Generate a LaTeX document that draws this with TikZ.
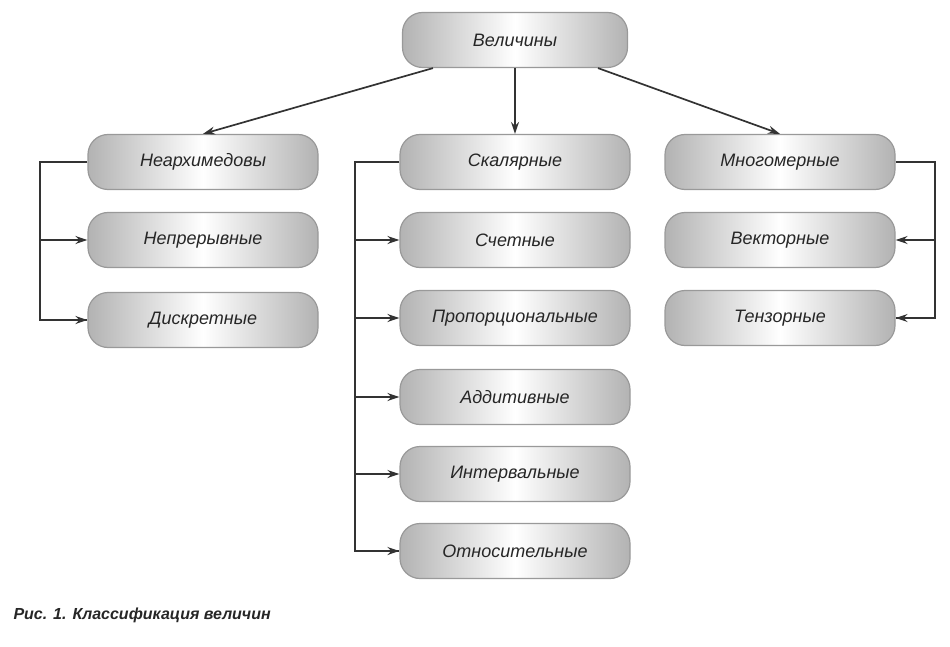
\documentclass[tikz,border=0pt]{standalone}
\usepackage{fontspec}
\setmainfont{Liberation Sans}
\usetikzlibrary{arrows.meta, positioning}

\begin{document}
\begin{tikzpicture}[
    x=1pt, y=-1pt,
    qty/.style={draw=gray!80, line width=1.2pt, rounded corners=20pt, minimum width=230pt, minimum height=55pt,
        left color=gray!60, right color=gray!60, middle color=white,
        font=\fontsize{18}{21}\selectfont\itshape, text=black!85},
    arrow/.style={-{Stealth[length=12pt,width=8pt]}, line width=1.7pt, black!80},
    bus/.style={line width=1.7pt, black!80}
]
    \useasboundingbox (0,0) rectangle (950,647);

    % Root
    \node[qty, minimum width=225pt] (root) at (515,40) {Величины};

    % Left column
    \node[qty] (nearch) at (203,162) {Неархимедовы};
    \node[qty] (nepr) at (203,240) {Непрерывные};
    \node[qty] (diskr) at (203,320) {Дискретные};

    % Middle column
    \node[qty] (skal) at (515,162) {Скалярные};
    \node[qty] (schet) at (515,240) {Счетные};
    \node[qty] (prop) at (515,318) {Пропорциональные};
    \node[qty] (addit) at (515,397) {Аддитивные};
    \node[qty] (interv) at (515,474) {Интервальные};
    \node[qty] (otnos) at (515,551) {Относительные};

    % Right column
    \node[qty] (mnog) at (780,162) {Многомерные};
    \node[qty] (vekt) at (780,240) {Векторные};
    \node[qty] (tenz) at (780,318) {Тензорные};

    % Caption
    \node[anchor=west, font=\fontsize{16}{19}\selectfont\bfseries\itshape, text=black!85] (caption) at (10,615) {Рис. 1. Классификация величин};

    % Top level
    \draw[arrow] ([xshift=-82pt]root.south) -- (nearch.north);
    \draw[arrow] (root.south) -- (skal.north);
    \draw[arrow] ([xshift=83pt]root.south) -- (mnog.north);

    % Buses
    \coordinate (lbus) at (40,162);
    \coordinate (mbus) at (355,162);
    \coordinate (rbus) at (935,162);
    \draw[bus] (nearch.west) -- (lbus) |- (diskr.west);
    \foreach \n in {nepr, diskr}
        \draw[arrow] (lbus |- \n.west) -- (\n.west);
    \draw[bus] (skal.west) -- (mbus) |- (otnos.west);
    \foreach \n in {schet, prop, addit, interv, otnos}
        \draw[arrow] (mbus |- \n.west) -- (\n.west);
    \draw[bus] (mnog.east) -- (rbus) |- (tenz.east);
    \foreach \n in {vekt, tenz}
        \draw[arrow] (rbus |- \n.east) -- (\n.east);
\end{tikzpicture}
\end{document}
